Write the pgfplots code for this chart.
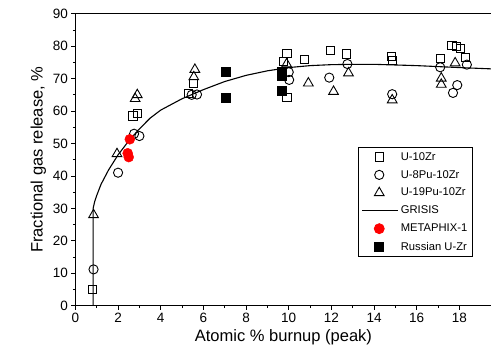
\documentclass[border=0pt]{standalone}
\usepackage{fontspec}
\setmainfont{Liberation Sans}
\usepackage{pgfplots}
\pgfplotsset{compat=1.18}
\pgfplotsset{longline/.style={legend image code/.code={\draw[##1] (-3pt,0pt) -- (33pt,0pt);}}}
\begin{document}
\begin{tikzpicture}
\begin{axis}[
 name=ax, at={(0,0)}, anchor=south west,
 scale only axis, width=415.4pt, height=291.6pt,
 xmin=0, xmax=19.5, ymin=0, ymax=90,
 xtick={0,2,...,18}, ytick={0,10,...,90},
 minor x tick num=1, minor y tick num=1,
 tick align=outside, xtick pos=left, ytick pos=left,
 major tick length=4pt, minor tick length=2.5pt,
 every tick/.style={black, line width=0.8pt},
 axis line style={line width=0.8pt},
 /pgf/number format/assume math mode=true,
 ticklabel style={font=\fontsize{13.5}{15}\selectfont},
 label style={font=\fontsize{16.5}{19}\selectfont},
 xlabel={Atomic \% burnup (peak)},
 ylabel={Fractional gas release, \%},
 legend style={at={(0.68,0.544)}, anchor=north west, draw=black, line width=0.8pt,
   font=\fontsize{11.2}{13}\selectfont, row sep=4.6pt, inner xsep=3pt, inner ysep=3pt,
   cells={anchor=west}},
 legend image code/.code={\draw[mark repeat=2,mark phase=2,#1] plot coordinates {(0pt,0pt)(14pt,0pt)(33pt,0pt)};},
]
\addplot[only marks, mark=square, mark size=4.1pt, mark options={line width=0.9pt, fill=none}] coordinates {
(0.8,5) (2.7,58.5) (2.92,59.2) (5.3,65.4) (5.55,68.5) (9.75,75.2) (9.92,77.8) (9.92,64.3)
(10.75,76) (11.95,78.6) (12.7,77.6) (14.8,76.9) (14.87,75.7) (17.1,76.2) (17.65,80.2)
(17.85,80.0) (18.05,79.4) (18.3,76.4)};
\addlegendentry{U-10Zr}
\addplot[only marks, mark=o, mark size=4.6pt, mark options={line width=0.9pt}] coordinates {
(0.85,11.2) (2.0,41) (2.75,53) (3.0,52.3) (5.45,65) (5.7,65.1) (10.0,72) (10.02,69.6)
(11.9,70.3) (12.75,74.5) (14.85,65.2) (17.1,73.5) (17.7,65.6) (17.9,68) (18.35,74.3)};
\addlegendentry{U-8Pu-10Zr}
\addplot[only marks, mark=triangle, mark size=5.6pt, mark options={line width=0.9pt}] coordinates {
(0.85,28) (1.95,46.8) (2.8,63.8) (2.9,65) (5.55,70.5) (5.6,72.8) (9.9,74.5) (10.92,68.6)
(12.1,66) (12.8,71.7) (14.85,63.4) (17.15,70.1) (17.15,68.2) (17.8,74.8)};
\addlegendentry{U-19Pu-10Zr}
\addplot[black, line width=1.1pt, longline] coordinates {
(0.83,0) (0.83,30) (0.9,32) (1.0,34) (1.2,37.4) (1.55,41.8) (2.0,46.5) (2.5,50.8) (3.0,54.5)
(3.5,57.8) (4.0,60.3) (5.0,63.8) (6.0,66.6) (7.0,69.1) (8.0,71.0) (9.0,72.4) (10,73.4)
(11,74.0) (12,74.3) (13,74.4) (14,74.4) (15,74.2) (16,74.0) (17,73.7) (18,73.4) (19.5,73.0)};
\addlegendentry{GRISIS}
\addplot[only marks, mark=*, mark size=5pt, mark options={draw=red, fill=red}] coordinates {
(2.55,51.3) (2.45,47) (2.5,45.8)};
\addlegendentry{METAPHIX-1}
\addplot[only marks, mark=square*, mark size=4.5pt, mark options={draw=black, fill=black}] coordinates {
(7.05,72.1) (7.05,64.1) (9.65,72) (9.65,71) (9.65,66.3)};
\addlegendentry{Russian U-Zr}
\end{axis}
\pgfresetboundingbox
\path[use as bounding box] ([xshift=-75.3pt,yshift=-47.7pt]ax.south west) rectangle ([xshift=-0.4pt,yshift=13.7pt]ax.north east);
\end{tikzpicture}
\end{document}
